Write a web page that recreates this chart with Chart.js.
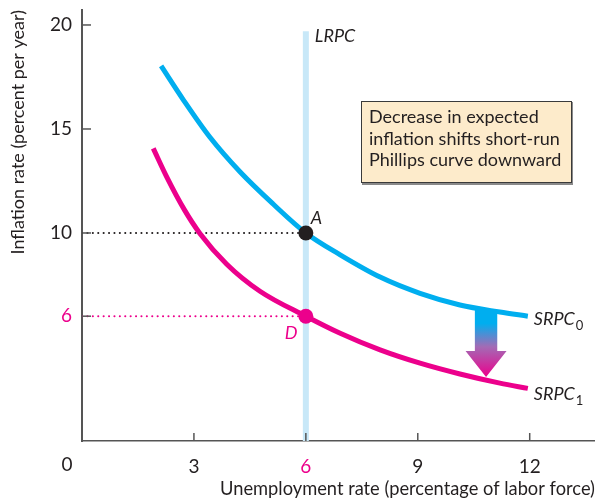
<!DOCTYPE html>
<html>
<head>
<meta charset="utf-8">
<script src="https://cdn.jsdelivr.net/npm/chart.js@4.4.1/dist/chart.umd.min.js"></script>
<style>
  html, body { margin: 0; padding: 0; background: #ffffff; }
  #wrap { width: 595px; height: 501px; position: relative; }
</style>
</head>
<body>
<div id="wrap"><canvas id="c" width="595" height="501"></canvas></div>
<script>
// ---- data ----
const xTicks = [3, 6, 9, 12];
const yTicks = [6, 10, 15, 20];
const srpc0 = [
  [2.12, 18.03], [2.72, 16.39], [3.43, 14.6], [4.24, 12.93], [5.13, 11.38],
  [6.0, 10.0], [6.92, 8.95], [7.99, 7.88], [9.06, 7.1], [10.13, 6.54],
  [11.2, 6.2], [11.95, 6.0]
];
const srpc1 = [
  [1.91, 14.07], [2.27, 12.7], [2.75, 11.1], [3.16, 9.98], [3.88, 8.5],
  [4.77, 7.2], [6.0, 6.0], [6.92, 5.18], [7.99, 4.38], [9.06, 3.74],
  [10.13, 3.22], [11.2, 2.78], [11.95, 2.53]
];
const lrpc = [[6, 0], [6, 19.7]];
const pointA = [6, 10];
const pointD = [6, 6];
const expected10 = [[0, 10], [6, 10]];
const expected6 = [[0, 6], [6, 6]];
const shiftArrow = { x: 10.83, yTop: 6.3, yHeadBase: 4.33, yTip: 3.08, shaftHalf: 0.3, headHalf: 0.55 };
const boxLines = ["Decrease in expected", "inflation shifts short-run", "Phillips curve downward"];

const BLUE = '#00aeef';
const PINK = '#ec008c';
const LIGHT = '#c8e8f8';
const INK = '#231f20';
const FONT = 'Lato, "Open Sans", sans-serif';
const toXY = arr => arr.map(p => ({ x: p[0], y: p[1] }));

const decor = {
  id: 'decor',
  afterDatasetsDraw(chart) {
    const ctx = chart.ctx;
    const xs = chart.scales.x, ys = chart.scales.y;
    const px = v => xs.getPixelForValue(v), py = v => ys.getPixelForValue(v);
    const ca = chart.chartArea;
    ctx.save();
    // inward tick marks
    ctx.strokeStyle = '#555';
    ctx.lineWidth = 1.5;
    yTicks.forEach(v => { ctx.beginPath(); ctx.moveTo(ca.left, py(v)); ctx.lineTo(ca.left + 9, py(v)); ctx.stroke(); });
    xTicks.forEach(v => { ctx.beginPath(); ctx.moveTo(px(v), ca.bottom); ctx.lineTo(px(v), ca.bottom - 8); ctx.stroke(); });

    // origin label
    ctx.fillStyle = INK;
    ctx.font = '19px ' + FONT;
    ctx.textAlign = 'center';
    ctx.textBaseline = 'alphabetic';
    ctx.fillText('0', 67, 471);

    // italic labels
    ctx.font = 'italic 18px ' + FONT;
    ctx.textAlign = 'left';
    ctx.fillText('LRPC', px(6) + 9, 42);
    ctx.fillText('A', px(6) + 5, 224);
    ctx.fillStyle = PINK;
    ctx.fillText('D', px(6) - 21, 339);
    ctx.fillStyle = INK;
    const sx = px(11.95) + 6;
    ctx.fillText('SRPC', sx, 325);
    ctx.fillText('SRPC', sx, 400);
    const w = ctx.measureText('SRPC').width;
    ctx.font = '13px ' + FONT;
    ctx.fillText('0', sx + w + 1, 330);
    ctx.fillText('1', sx + w + 1, 405);

    // text box
    const bx = 361, by = 101, bw = 211, bh = 82;
    ctx.fillStyle = '#8a8a8a';
    ctx.fillRect(bx + 1, by + 1, bw, bh + 1);
    ctx.fillStyle = '#fdebcb';
    ctx.fillRect(bx, by, bw, bh);
    ctx.strokeStyle = '#3a3a3a';
    ctx.lineWidth = 1;
    ctx.strokeRect(bx + 0.5, by + 0.5, bw - 1, bh - 1);
    ctx.fillStyle = INK;
    ctx.font = '18px ' + FONT;
    ctx.textAlign = 'left';
    boxLines.forEach((t, i) => ctx.fillText(t, bx + 8, 123 + i * 21.5));

    // gradient arrow
    const a = shiftArrow;
    const cx = px(a.x);
    const top = py(a.yTop), hb = py(a.yHeadBase), tip = py(a.yTip);
    const sh = px(a.x + a.shaftHalf) - cx, hh = px(a.x + a.headHalf) - cx;
    const g = ctx.createLinearGradient(0, top, 0, tip);
    g.addColorStop(0, BLUE);
    g.addColorStop(0.2, BLUE);
    g.addColorStop(0.55, '#a36bb5');
    g.addColorStop(1, PINK);
    ctx.fillStyle = g;
    ctx.beginPath();
    ctx.moveTo(cx - sh, top);
    ctx.lineTo(cx + sh, top);
    ctx.lineTo(cx + sh, hb);
    ctx.lineTo(cx + hh, hb);
    ctx.lineTo(cx, tip);
    ctx.lineTo(cx - hh, hb);
    ctx.lineTo(cx - sh, hb);
    ctx.closePath();
    ctx.fill();
    ctx.restore();
  }
};

new Chart(document.getElementById('c'), {
  type: 'line',
  data: {
    datasets: [
      { label: 'A', data: toXY([pointA]), showLine: false, pointRadius: 7.5, pointBackgroundColor: INK, pointBorderWidth: 0, order: 0 },
      { label: 'D', data: toXY([pointD]), showLine: false, pointRadius: 7.5, pointBackgroundColor: PINK, pointBorderWidth: 0, order: 0 },
      { label: 'SRPC0', data: toXY(srpc0), borderColor: BLUE, borderWidth: 5, pointRadius: 0, cubicInterpolationMode: 'monotone', order: 1 },
      { label: 'SRPC1', data: toXY(srpc1), borderColor: PINK, borderWidth: 5, pointRadius: 0, cubicInterpolationMode: 'monotone', order: 1 },
      { label: 'exp10', data: toXY(expected10), borderColor: INK, borderWidth: 2, borderDash: [0.1, 5.3], borderCapStyle: 'round', pointRadius: 0, order: 2 },
      { label: 'exp6', data: toXY(expected6), borderColor: PINK, borderWidth: 2, borderDash: [0.1, 5.3], borderCapStyle: 'round', pointRadius: 0, order: 2 },
      { label: 'LRPC', data: toXY(lrpc), borderColor: LIGHT, borderWidth: 6, borderCapStyle: 'butt', pointRadius: 0, order: 3 }
    ]
  },
  options: {
    responsive: false,
    animation: false,
    events: [],
    layout: { autoPadding: false, padding: { top: 10, right: 0, left: 0, bottom: 0 } },
    plugins: { legend: { display: false }, tooltip: { enabled: false } },
    scales: {
      x: {
        type: 'linear', min: 0, max: 13.75,
        afterFit: s => { s.height = 60; s.paddingLeft = 0; s.paddingRight = 0; },
        afterBuildTicks: s => { s.ticks = xTicks.map(v => ({ value: v })); },
        grid: { drawOnChartArea: false, drawTicks: false },
        border: { color: '#555', width: 1.5 },
        ticks: {
          padding: 14, autoSkip: false, maxRotation: 0,
          font: { family: FONT, size: 19 },
          color: c => (c.tick && c.tick.value === 6) ? PINK : INK
        },
        title: { display: true, align: 'end', text: 'Unemployment rate (percentage of labor force)', font: { family: FONT, size: 18.3 }, color: INK, padding: { top: 0, bottom: 1 } }
      },
      y: {
        type: 'linear', min: 0, max: 20.72,
        afterFit: s => { s.width = 82; s.paddingTop = 0; s.paddingBottom = 0; },
        afterBuildTicks: s => { s.ticks = yTicks.map(v => ({ value: v })); },
        grid: { drawOnChartArea: false, drawTicks: false },
        border: { color: '#555', width: 2 },
        ticks: {
          padding: 10, autoSkip: false,
          font: { family: FONT, size: 19 },
          color: c => (c.tick && c.tick.value === 6) ? PINK : INK
        },
        title: { display: true, align: 'end', text: 'Inflation rate (percent per year)', font: { family: FONT, size: 18 }, color: INK, padding: { top: 7, bottom: 0 } }
      }
    }
  },
  plugins: [decor]
});
</script>
</body>
</html>
